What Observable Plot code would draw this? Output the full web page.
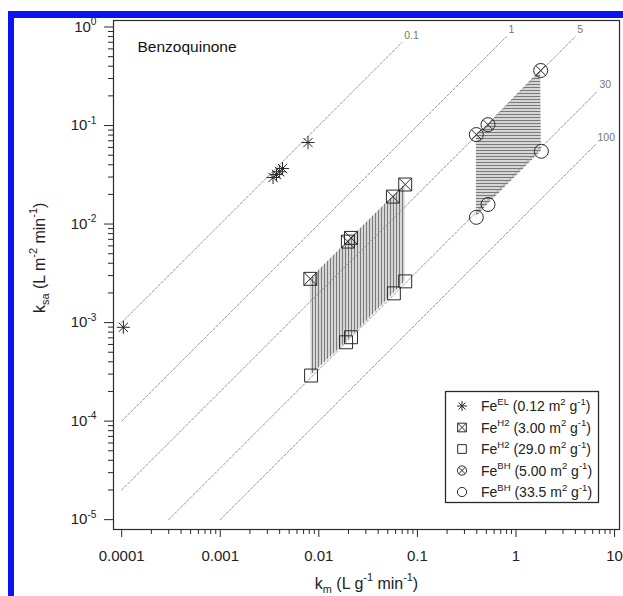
<!DOCTYPE html>
<html><head><meta charset="utf-8">
<script src="https://cdn.jsdelivr.net/npm/d3@7"></script>
<script src="https://cdn.jsdelivr.net/npm/@observablehq/plot@0.6"></script>
<style>
html,body{margin:0;padding:0;background:#fff;}
#wrap{position:relative;width:623px;height:596px;overflow:hidden;background:#fff;}
#border{position:absolute;left:8px;top:11px;width:640px;height:620px;border-top:7px solid #0a14f0;border-left:6px solid #0a14f0;pointer-events:none;}
svg text{white-space:pre;}
</style></head>
<body>
<svg width="0" height="0" style="position:absolute">
<defs>
<pattern id="hatchV" width="3" height="10" patternUnits="userSpaceOnUse">
<rect width="3" height="10" fill="#d6d6d6"/>
<line x1="0.5" y1="0" x2="0.5" y2="10" stroke="#7a7a7a" stroke-width="1"/>
</pattern>
<pattern id="hatchH" width="10" height="3" patternUnits="userSpaceOnUse">
<rect width="10" height="3" fill="#d6d6d6"/>
<line x1="0" y1="0.5" x2="10" y2="0.5" stroke="#7a7a7a" stroke-width="1"/>
</pattern>
</defs></svg>
<div id="wrap"><div id="chart"></div><div id="border"></div></div>
<script>
const fontFam = "'Liberation Sans', Arial, Helvetica, sans-serif";

// Fe EL (0.12 m2/g) — asterisks
const elKm  = [0.000104, 0.00343, 0.00372, 0.00400, 0.00428, 0.00776];
const elKsa = [0.000896, 0.0297, 0.0318, 0.0340, 0.0366, 0.0672];
// Fe H2 (3.00 m2/g) — crossed squares
const h2aKm  = [0.0082, 0.0197, 0.0212, 0.0564, 0.0752];
const h2aKsa = [0.00278, 0.00664, 0.00724, 0.0190, 0.0252];
// Fe H2 (29.0 m2/g) — open squares
const h2bKm  = [0.00834, 0.0189, 0.0212, 0.0577, 0.0752];
const h2bKsa = [0.000290, 0.000631, 0.000710, 0.00198, 0.00262];
// Fe BH (5.00 m2/g) — crossed circles
const bhaKm  = [0.396, 0.520, 1.78];
const bhaKsa = [0.0810, 0.102, 0.362];
// Fe BH (33.5 m2/g) — open circles
const bhbKm  = [0.396, 0.520, 1.81];
const bhbKsa = [0.0117, 0.0158, 0.0548];

// iso-lines of specific surface area (m2/g)
const isoLabels = ["0.1", "1", "5", "30", "100"];
const isoKm0  = [1e-4, 1e-4, 1e-4, 3e-4, 1e-3];
const isoKsa0 = [1e-3, 1e-4, 2e-5, 1e-5, 1e-5];
const isoKm1  = [0.07, 0.8, 4.0, 6.7, 6.4];
const isoKsa1 = [0.7, 0.8, 0.8, 0.223, 0.064];

// ticks
const xMajor = [1e-4, 1e-3, 1e-2, 1e-1, 1, 10];
const xTickLabels = ["0.0001", "0.001", "0.01", "0.1", "1", "10"];
const yMajor = [1, 1e-1, 1e-2, 1e-3, 1e-4, 1e-5];
const yTickLabels = ["10^{0}", "10^{-1}", "10^{-2}", "10^{-3}", "10^{-4}", "10^{-5}"];
const minorMult = [2, 3, 4, 5, 6, 7, 8, 9];
const xMinor = [1e-4, 1e-3, 1e-2, 1e-1, 1].flatMap(d => minorMult.map(k => k * d));
const yMinor = [1e-5, 1e-4, 1e-3, 1e-2, 1e-1].flatMap(d => minorMult.map(k => k * d));

// legend
const legendLabels = [
  "Fe^{EL} (0.12 m^{2} g^{-1})",
  "Fe^{H2} (3.00 m^{2} g^{-1})",
  "Fe^{H2} (29.0 m^{2} g^{-1})",
  "Fe^{BH} (5.00 m^{2} g^{-1})",
  "Fe^{BH} (33.5 m^{2} g^{-1})"
];
const legendSymbols = ["asterisk", "xsquare", "square", "xcircle", "circle"];

const title = "Benzoquinone";
const xTitle = "k_{m} (L g^{-1} min^{-1})";
const yTitle = "k_{sa} (L m^{-2} min^{-1})";

// tables
const pts = (xs, ys) => xs.map((x, i) => ({x, y: ys[i]}));
const el = pts(elKm, elKsa), h2a = pts(h2aKm, h2aKsa), h2b = pts(h2bKm, h2bKsa);
const bha = pts(bhaKm, bhaKsa), bhb = pts(bhbKm, bhbKsa);
const band = (ax, ay, bx, by) => ax.map((x, i) => ({x1: x, y1: ay[i], x2: bx[i], y2: by[i]}));
const h2Band = band(h2aKm, h2aKsa, h2bKm, h2bKsa);
const bhBand = band(bhaKm, bhaKsa, bhbKm, bhbKsa);
const isoRows = isoLabels.flatMap((l, i) => [{l, x: isoKm0[i], y: isoKsa0[i]}, {l, x: isoKm1[i], y: isoKsa1[i]}]);
const isoEnds = isoLabels.map((l, i) => ({l, x: isoKm1[i], y: isoKsa1[i]}));

const ink = "#2a2a2a";
const sym = {stroke: ink, strokeWidth: 1, fill: "none"};

const plot = Plot.plot({
  width: 623, height: 596,
  marginLeft: 113, marginRight: 4, marginTop: 20, marginBottom: 67,
  style: {fontFamily: fontFam, fontSize: "15px", color: "#222", background: "transparent"},
  x: {type: "log", domain: [10 ** -4.083, 10 ** 1.05]},
  y: {type: "log", domain: [10 ** -5.1, 10 ** 0.066]},
  marks: [
    Plot.area(h2Band, {x1: "x1", y1: "y1", x2: "x2", y2: "y2", fill: "url(#hatchV)"}),
    Plot.area(bhBand, {x1: "x1", y1: "y1", x2: "x2", y2: "y2", fill: "url(#hatchH)"}),
    Plot.line(isoRows, {x: "x", y: "y", z: "l", stroke: "#8a8a8a", strokeWidth: 0.9, strokeDasharray: "2.5,1.8"}),
    Plot.text(isoEnds, {x: "x", y: "y", text: "l", textAnchor: "start", dx: 2, dy: -7, fontSize: 10.5, fill: "#777"}),
    Plot.dot(el, {x: "x", y: "y", symbol: "plus", r: 4.3, ...sym}),
    Plot.dot(el, {x: "x", y: "y", symbol: "times", r: 4.3, ...sym}),
    Plot.dot(h2a, {x: "x", y: "y", symbol: "square", r: 7.3, ...sym}),
    Plot.dot(h2a, {x: "x", y: "y", symbol: "times", r: 5.95, ...sym}),
    Plot.dot(h2b, {x: "x", y: "y", symbol: "square", r: 7.3, ...sym}),
    Plot.dot(bha, {x: "x", y: "y", symbol: "circle", r: 7, ...sym}),
    Plot.dot(bha, {x: "x", y: "y", symbol: "times", r: 4.57, ...sym}),
    Plot.dot(bhb, {x: "x", y: "y", symbol: "circle", r: 7, ...sym}),
    Plot.frame({stroke: ink, strokeWidth: 1.2}),
    Plot.axisX(xMinor, {tickSize: 5, tickFormat: () => "", label: null, stroke: ink}),
    Plot.axisX(xMajor, {tickSize: 8, tickPadding: 13, fontSize: 15, label: null, stroke: ink, fill: "#222",
      tickFormat: d => xTickLabels[xMajor.indexOf(d)]}),
    Plot.axisY(yMinor, {tickSize: 5, tickFormat: () => "", label: null, stroke: ink}),
    Plot.axisY(yMajor, {tickSize: 9, tickPadding: 8, fontSize: 15, label: null, stroke: ink, fill: "#222",
      tickFormat: d => yTickLabels[yMajor.indexOf(d)]}),
    Plot.text([title], {frameAnchor: "top-left", dx: 24, dy: 27, textAnchor: "start", lineAnchor: "middle", fontSize: 15.5, fill: "#111"}),
    Plot.text([xTitle], {frameAnchor: "bottom", dy: 54, lineAnchor: "middle", fontSize: 16, fill: "#222"}),
    Plot.text([yTitle], {frameAnchor: "left", dx: -74, dy: 38, rotate: -90, lineAnchor: "middle", fontSize: 16, fill: "#222"})
  ]
});
document.getElementById("chart").appendChild(plot);

// legend (inside plot area, lower right)
const SVGNS = "http://www.w3.org/2000/svg";
const lg = d3.select(plot).append("g").attr("font-family", fontFam).attr("font-size", 14)
  .attr("fill", "#222").attr("text-anchor", "start");
lg.append("rect").attr("x", 445.5).attr("y", 391.5).attr("width", 153).attr("height", 111)
  .attr("fill", "white").attr("stroke", ink).attr("stroke-width", 1.3);
const symPath = (type, r) => d3.symbol(type, Math.PI * r * r)();
legendLabels.forEach((lab, i) => {
  const cy = 406 + i * 21.5, cx = 462;
  const g = lg.append("g").attr("transform", `translate(${cx},${cy})`)
    .attr("fill", "none").attr("stroke", ink).attr("stroke-width", 1);
  const s = legendSymbols[i];
  if (s === "asterisk") { g.append("path").attr("d", symPath(d3.symbolPlus, 3.3)); g.append("path").attr("d", symPath(d3.symbolTimes, 3.3)); }
  if (s === "xsquare" || s === "square") g.append("path").attr("d", symPath(d3.symbolSquare, 4.9));
  if (s === "xsquare") g.append("path").attr("d", symPath(d3.symbolTimes, 4.0));
  if (s === "xcircle" || s === "circle") g.append("path").attr("d", symPath(d3.symbolCircle, 4.6));
  if (s === "xcircle") g.append("path").attr("d", symPath(d3.symbolTimes, 3.1));
  lg.append("text").attr("x", 481).attr("y", cy + 5).text(lab);
});

// turn ^{..} and _{..} into super/subscript tspans, then anchor explicitly
function markup(t) {
  const s = t.textContent;
  if (!/[\^_]\{/.test(s)) return;
  const cs = getComputedStyle(t);
  const fs = parseFloat(cs.fontSize) || 14;
  const anchor = cs.textAnchor;
  t.textContent = "";
  const re = /([\^_])\{([^}]*)\}/g;
  let last = 0, shift = 0, m;
  const spans = [];
  const add = (str, kind) => {
    if (!str) return;
    const sp = document.createElementNS(SVGNS, "tspan");
    const target = kind === "^" ? -0.45 * fs : kind === "_" ? 0.3 * fs : 0;
    const dy = target - shift;
    if (dy) sp.setAttribute("dy", dy.toFixed(2));
    if (kind) sp.setAttribute("font-size", (0.68 * fs).toFixed(2));
    shift = target;
    sp.textContent = str;
    t.appendChild(sp);
    spans.push(sp);
  };
  while ((m = re.exec(s))) { add(s.slice(last, m.index), null); add(m[2], m[1]); last = re.lastIndex; }
  add(s.slice(last), null);
  if (anchor === "middle" || anchor === "end") {
    t.style.textAnchor = "start";
    const len = t.getComputedTextLength();
    const off = anchor === "middle" ? -len / 2 : -len;
    spans[0].setAttribute("dx", off.toFixed(2));
  }
}
plot.querySelectorAll("text").forEach(markup);
</script>
</body></html>
